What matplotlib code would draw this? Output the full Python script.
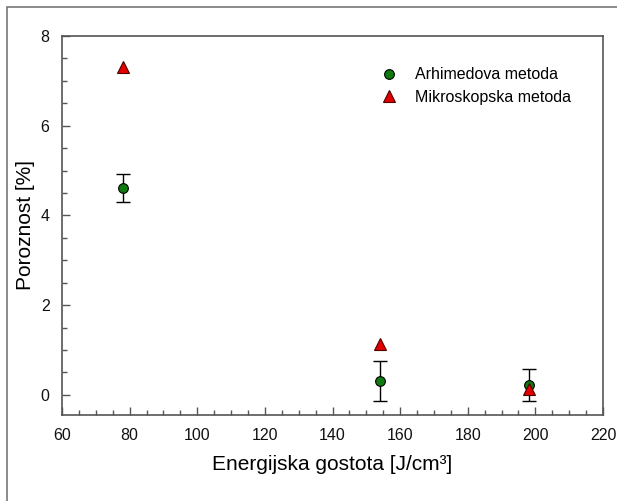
import matplotlib
matplotlib.use("Agg")
import matplotlib.pyplot as plt
from matplotlib.patches import Rectangle
from matplotlib.ticker import MultipleLocator

plt.rcParams['font.family'] = ['Liberation Sans', 'DejaVu Sans']

energy = [78, 154, 198]
arhimedova = [4.62, 0.31, 0.22]
arhimedova_err = [0.31, 0.45, 0.36]
mikroskopska = [7.31, 1.13, 0.13]

fig = plt.figure(figsize=(6.17, 5.01), dpi=100)
ax = fig.add_axes([62/617, 1 - 415/501, (603 - 62)/617, (415 - 36)/501])

ax.errorbar(energy, arhimedova, yerr=arhimedova_err, fmt='none', ecolor='black',
            elinewidth=1, capsize=5, capthick=1, zorder=2)
ax.plot(energy, arhimedova, 'o', color='#0f7a0f', markeredgecolor='black',
        markeredgewidth=0.8, markersize=7, linestyle='none',
        label='Arhimedova metoda', zorder=3)
ax.plot(energy, mikroskopska, '^', color='#e00000', markeredgecolor='#500000',
        markeredgewidth=0.8, markersize=8.5, linestyle='none',
        label='Mikroskopska metoda', zorder=4)

ax.set_xlim(60, 220)
ax.set_ylim(-0.45, 8)
ax.xaxis.set_major_locator(MultipleLocator(20))
ax.xaxis.set_minor_locator(MultipleLocator(5))
ax.yaxis.set_major_locator(MultipleLocator(2))
ax.yaxis.set_minor_locator(MultipleLocator(0.5))
ax.tick_params(which='both', direction='in', top=False, right=False,
               color='#555555', labelsize=11.5, labelcolor='#111111')
ax.tick_params(which='major', length=6, width=1, pad=9)
ax.tick_params(which='minor', length=3.5, width=1)
for s in ax.spines.values():
    s.set_color('#555555')
    s.set_linewidth(1.2)

ax.set_xlabel('Energijska gostota [J/cm\u00b3]', fontsize=15, labelpad=9)
ax.set_ylabel('Poroznost [%]', fontsize=15, labelpad=4)

ax.legend(loc='upper left', bbox_to_anchor=(0.555, 0.955), frameon=False,
          fontsize=11.5, handletextpad=0.9, labelspacing=0.45, handlelength=1.5)

fig.patches.append(Rectangle((7/617, -0.1), 2, 1 - 7/501 + 0.1,
                             transform=fig.transFigure, fill=False,
                             edgecolor='#777777', linewidth=1.2))

fig.savefig('out.png', dpi=100)
